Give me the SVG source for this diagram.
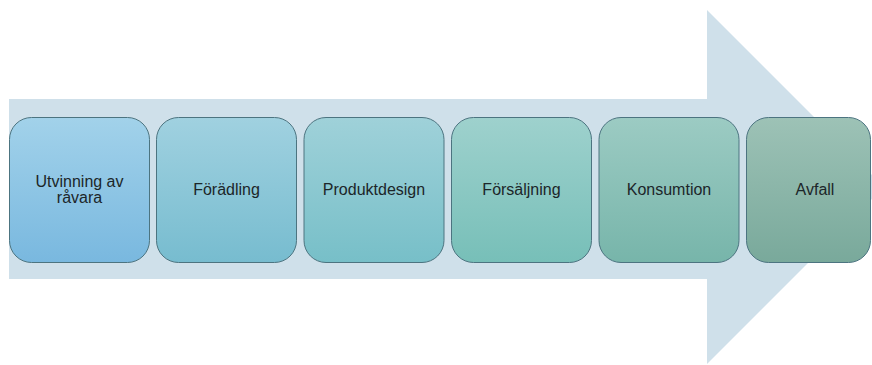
<svg xmlns="http://www.w3.org/2000/svg" width="872" height="365" viewBox="0 0 872 365">
<defs>
<linearGradient id="g1" x1="0" y1="0" x2="0" y2="1"><stop offset="0" stop-color="#a2d2ea"/><stop offset="1" stop-color="#79b8df"/></linearGradient>
<linearGradient id="g2" x1="0" y1="0" x2="0" y2="1"><stop offset="0" stop-color="#a0d1e0"/><stop offset="1" stop-color="#77bccf"/></linearGradient>
<linearGradient id="g3" x1="0" y1="0" x2="0" y2="1"><stop offset="0" stop-color="#9fd1d9"/><stop offset="1" stop-color="#77bfc8"/></linearGradient>
<linearGradient id="g4" x1="0" y1="0" x2="0" y2="1"><stop offset="0" stop-color="#9ed1cd"/><stop offset="1" stop-color="#77bfb8"/></linearGradient>
<linearGradient id="g5" x1="0" y1="0" x2="0" y2="1"><stop offset="0" stop-color="#9ccbc3"/><stop offset="1" stop-color="#77b5aa"/></linearGradient>
<linearGradient id="g6" x1="0" y1="0" x2="0" y2="1"><stop offset="0" stop-color="#9dc2b6"/><stop offset="1" stop-color="#79a99b"/></linearGradient>
</defs>
<style>
.box{stroke:#4c7480;stroke-width:1}
.lbl{font-family:"Liberation Sans",Arial,sans-serif;font-size:16px;fill:#1c2629;text-anchor:middle}
</style>
<g id="arrow">
<polygon points="9,99 707,99 707,10 884,187 707,364 707,279 9,279" fill="#cfe0ea"/>
</g>
<g id="connectors"></g>
<g id="n1"><rect class="box" x="9.5" y="117.5" width="140" height="145" rx="22" fill="url(#g1)"/><text class="lbl" x="79.5" y="187">Utvinning av</text><text class="lbl" x="79.5" y="203">råvara</text></g>
<g id="n2"><rect class="box" x="156.5" y="117.5" width="140" height="145" rx="22" fill="url(#g2)"/><text class="lbl" x="226.5" y="195">Förädling</text></g>
<g id="n3"><rect class="box" x="304" y="117.5" width="140" height="145" rx="22" fill="url(#g3)"/><text class="lbl" x="374" y="195">Produktdesign</text></g>
<g id="n4"><rect class="box" x="451.5" y="117.5" width="140" height="145" rx="22" fill="url(#g4)"/><text class="lbl" x="521.5" y="195">Försäljning</text></g>
<g id="n5"><rect class="box" x="599" y="117.5" width="140" height="145" rx="22" fill="url(#g5)"/><text class="lbl" x="669" y="195">Konsumtion</text></g>
<g id="n6"><rect class="box" x="746.5" y="117.5" width="124" height="145" rx="22" fill="url(#g6)"/><text class="lbl" x="815" y="195">Avfall</text></g>
</svg>
